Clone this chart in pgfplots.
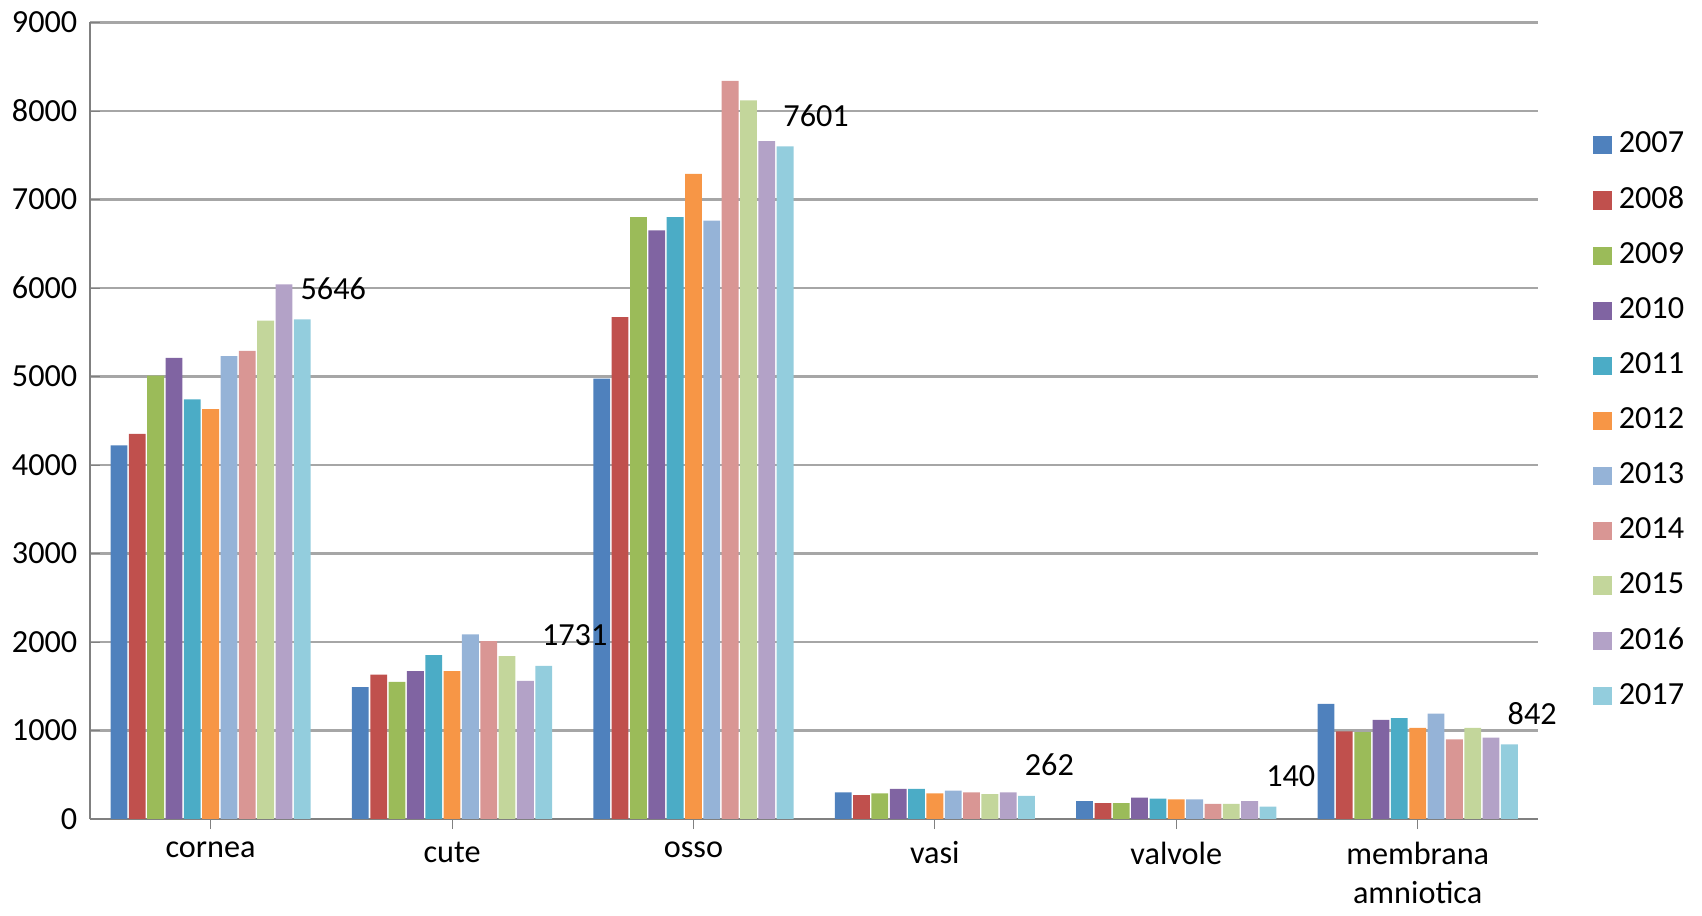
\documentclass[border=0pt]{standalone}
\usepackage{pgfplots}
\pgfplotsset{compat=1.18}
\usepackage{fontspec}
\setmainfont{Carlito}
\definecolor{c1}{HTML}{4F81BD}\definecolor{c2}{HTML}{C0504D}\definecolor{c3}{HTML}{9BBB59}
\definecolor{c4}{HTML}{8064A2}\definecolor{c5}{HTML}{4BACC6}\definecolor{c6}{HTML}{F79646}
\definecolor{c7}{HTML}{95B3D7}\definecolor{c8}{HTML}{D99694}\definecolor{c9}{HTML}{C3D69B}
\definecolor{c10}{HTML}{B3A2C7}\definecolor{c11}{HTML}{93CDDD}
\begin{document}
\begin{tikzpicture}
\begin{axis}[
  width=15.8cm, height=9.4cm, 
  ybar=0.015cm, bar width=0.165cm,
  ymin=0, ymax=9000, ytick distance=1000,
  xmin=-0.5, xmax=5.5, xtick={0,...,5},
  xticklabels={cornea,cute,osso,vasi,valvole,{membrana\\amniotica}},
  xticklabel style={align=center, font=\small},
  yticklabel style={font=\small},
  /pgf/number format/assume math mode=true,
  /pgf/number format/1000 sep={},
  ymajorgrids, grid style={gray!70, line width=0.8pt},
  axis x line*=bottom, axis y line*=left,
  axis line style={gray},
  major tick length=0.1cm, tick style={gray},
  legend style={at={(1.03,0.5)}, anchor=west, draw=none, font=\small, row sep=4pt},
  legend image code/.code={\fill[#1] (0cm,-0.09cm) rectangle (0.18cm,0.09cm);},
  every axis plot/.append style={draw=none},
]
\addplot[fill=c1] coordinates {(0,4220)(1,1490)(2,4975)(3,300)(4,200)(5,1300)};
\addplot[fill=c2] coordinates {(0,4350)(1,1630)(2,5670)(3,270)(4,180)(5,990)};
\addplot[fill=c3] coordinates {(0,5010)(1,1550)(2,6800)(3,290)(4,180)(5,980)};
\addplot[fill=c4] coordinates {(0,5210)(1,1670)(2,6650)(3,340)(4,240)(5,1120)};
\addplot[fill=c5] coordinates {(0,4740)(1,1850)(2,6800)(3,340)(4,230)(5,1140)};
\addplot[fill=c6] coordinates {(0,4630)(1,1670)(2,7290)(3,290)(4,220)(5,1030)};
\addplot[fill=c7] coordinates {(0,5230)(1,2085)(2,6760)(3,320)(4,220)(5,1190)};
\addplot[fill=c8] coordinates {(0,5290)(1,2010)(2,8340)(3,300)(4,170)(5,900)};
\addplot[fill=c9] coordinates {(0,5630)(1,1840)(2,8120)(3,280)(4,170)(5,1030)};
\addplot[fill=c10] coordinates {(0,6040)(1,1560)(2,7660)(3,300)(4,200)(5,920)};
\addplot[fill=c11, nodes near coords, every node near coord/.append style={font=\small, black, anchor=south west, xshift=-4pt, yshift=2pt}] coordinates {(0,5646)(1,1731)(2,7601)(3,262)(4,140)(5,842)};
\legend{2007,2008,2009,2010,2011,2012,2013,2014,2015,2016,2017}
\end{axis}
\end{tikzpicture}
\end{document}
